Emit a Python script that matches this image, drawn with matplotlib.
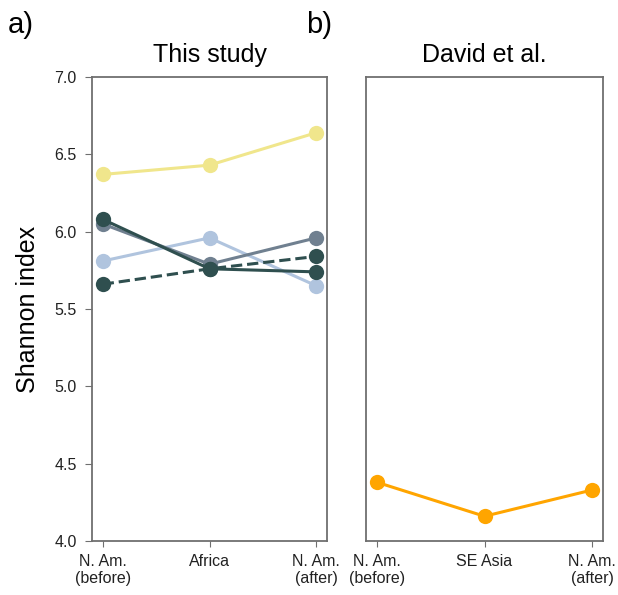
import matplotlib
matplotlib.use("Agg")
import matplotlib.pyplot as plt

plt.rcParams['font.family'] = ['Liberation Sans', 'DejaVu Sans']

# Data
cats_a = ["N. Am.\n(before)", "Africa", "N. Am.\n(after)"]
cats_b = ["N. Am.\n(before)", "SE Asia", "N. Am.\n(after)"]

yellow_vals = [6.37, 6.43, 6.64]
lightblue_vals = [5.81, 5.96, 5.65]
slate_vals = [6.05, 5.79, 5.96]
darkgreen_vals = [6.08, 5.76, 5.74]
darkgreen_dashed_vals = [5.66, 5.76, 5.84]
david_vals = [4.38, 4.16, 4.33]

yticks = [4.0, 4.5, 5.0, 5.5, 6.0, 6.5, 7.0]

series_a = [
    (yellow_vals, "#F0E68C", "-"),
    (lightblue_vals, "#B0C4DE", "-"),
    (slate_vals, "#708090", "-"),
    (darkgreen_vals, "#2F4F4F", "-"),
    (darkgreen_dashed_vals, "#2F4F4F", "--"),
]

fig = plt.figure(figsize=(6.18, 5.95), dpi=100)
W, H = 618, 595
axA = fig.add_axes([92 / W, 1 - 541 / H, (327 - 92) / W, (541 - 77) / H])
axB = fig.add_axes([366 / W, 1 - 541 / H, (603 - 366) / W, (541 - 77) / H])

xs = list(range(3))
for vals, c, ls in series_a:
    axA.plot(xs, vals, color=c, ls=ls, lw=2.2, marker='o', ms=11,
             markeredgewidth=0)
axB.plot(xs, david_vals, color="#FFA500", lw=2.2, marker='o', ms=11,
         markeredgewidth=0)

spine_col = "#6f6f6f"
for ax, cats in ((axA, cats_a), (axB, cats_b)):
    ax.set_xlim(-0.1, 2.1)
    ax.set_ylim(4.0, 7.0)
    ax.set_xticks(xs)
    ax.set_xticklabels(cats, fontsize=11.5, color="#222222")
    for s in ax.spines.values():
        s.set_color(spine_col)
        s.set_linewidth(1.3)
    ax.tick_params(axis='x', length=4, color=spine_col, pad=5)

axA.set_yticks(yticks)
axA.set_yticklabels([f"{v:.1f}" for v in yticks], fontsize=11.5, color="#222222")
axA.tick_params(axis='y', length=5, color=spine_col, pad=6)
axA.set_ylabel("Shannon index", fontsize=18, labelpad=10)
axB.set_yticks([])

axA.set_title("This study", fontsize=18, pad=11)
axB.set_title("David et al.", fontsize=18, pad=11)

fig.text(8 / W, 1 - 33 / H, "a)", fontsize=21, ha='left', va='baseline')
fig.text(306 / W, 1 - 33 / H, "b)", fontsize=21, ha='left', va='baseline')

fig.savefig("out.png", dpi=100)
